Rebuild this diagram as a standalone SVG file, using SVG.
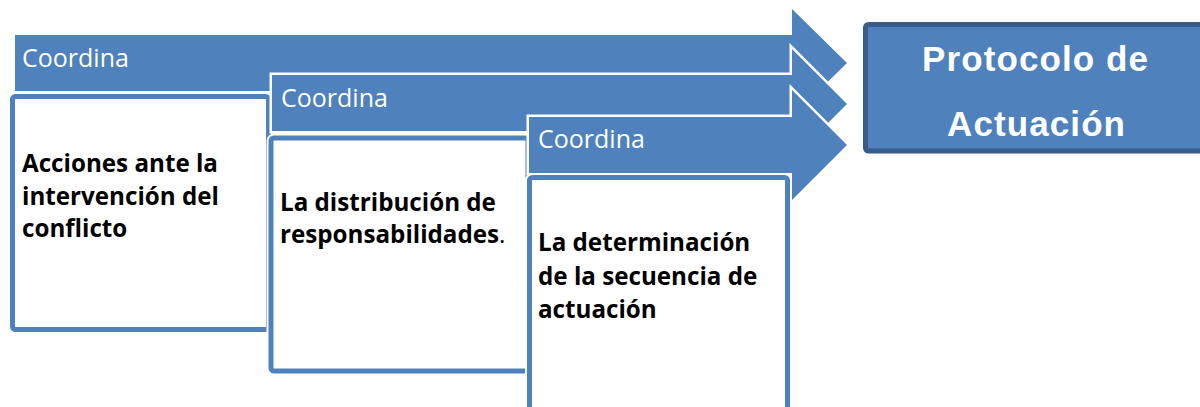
<svg xmlns="http://www.w3.org/2000/svg" width="1200" height="407" viewBox="0 0 1200 407">
<style>
.arrow{fill:#4F81BD;stroke:#FFFFFF;stroke-width:5;paint-order:stroke;stroke-linejoin:miter}
.box{fill:#FFFFFF;stroke:#4F81BD;stroke-width:5}
.boxo{fill:none;stroke:#FFFFFF;stroke-width:9}
.lbl{font-family:"Open Sans","Liberation Sans",sans-serif;font-size:25px;fill:#FFFFFF}
.txt{font-family:"Open Sans","Liberation Sans",sans-serif;font-size:24.2px;font-weight:bold;fill:#000000}
.ptxt{font-family:"Liberation Sans",Arial,sans-serif;font-size:35px;font-weight:bold;fill:#FFFFFF;letter-spacing:1.1px}
</style>
<rect width="1200" height="407" fill="#FFFFFF"/>
<g id="stage1">
<path class="arrow" d="M15,35 H792 V9 L847,63 L792,117 V91 H15 Z"/>
<text class="lbl" x="22" y="67">Coordina</text>
<rect class="boxo" x="12.5" y="96.5" width="256" height="233" rx="3"/>
<rect class="box" x="12.5" y="96.5" width="256" height="233" rx="3"/>
<text class="txt"><tspan x="22" y="172">Acciones ante la</tspan><tspan x="22" y="204.5">intervención del</tspan><tspan x="22" y="237">conflicto</tspan></text>
</g>
<g id="stage2">
<path class="arrow" d="M272,75 H792 V49 L847,104 L792,159 V131 H272 Z"/>
<text class="lbl" x="281" y="107">Coordina</text>
<rect class="boxo" x="271" y="138" width="257" height="233" rx="3"/>
<rect class="box" x="271" y="138" width="257" height="233" rx="3"/>
<text class="txt"><tspan x="280" y="211">La distribución de</tspan><tspan x="280" y="243">responsabilidades<tspan font-weight="normal">.</tspan></tspan></text>
</g>
<g id="stage3">
<path class="arrow" d="M529,117 H792 V90 L847,145 L792,200 V173 H529 Z"/>
<text class="lbl" x="538" y="148">Coordina</text>
<rect class="boxo" x="529.5" y="177.5" width="258" height="260" rx="3"/>
<rect class="box" x="529.5" y="177.5" width="258" height="260" rx="3"/>
<text class="txt"><tspan x="538" y="251">La determinación</tspan><tspan x="538" y="284.5">de la secuencia de</tspan><tspan x="538" y="318">actuación</tspan></text>
</g>
<g id="protocolo">
<rect x="865.5" y="24.5" width="400" height="126.5" rx="3" fill="#4F81BD" stroke="#385D8A" stroke-width="5"/>
<text class="ptxt" x="922" y="71">Protocolo de</text>
<text class="ptxt" x="947" y="136">Actuación</text>
</g>
<g id="connectors"></g>
</svg>
